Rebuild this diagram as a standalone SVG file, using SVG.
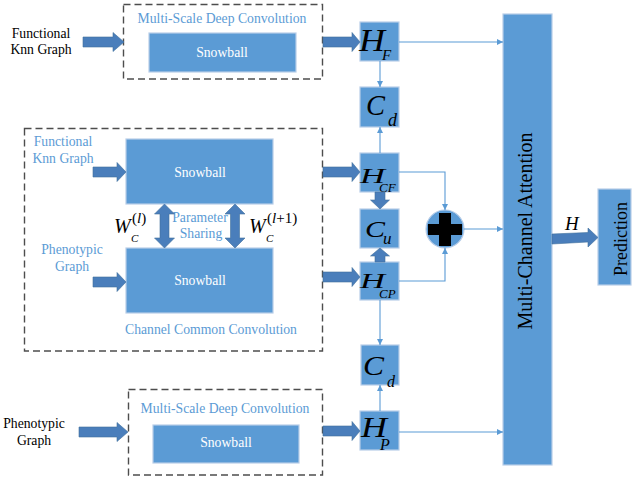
<svg xmlns="http://www.w3.org/2000/svg" width="632" height="481" viewBox="0 0 632 481">
  <style>
    text { font-family: "Liberation Serif", "Times New Roman", serif; }
    .box { fill: #5B9BD5; stroke: #B8CDE8; stroke-width: 1.2; }
    .frame { fill: none; stroke: #4D4D4D; stroke-width: 1.4; stroke-dasharray: 7 4; }
    .fat { fill: #4A7EBB; stroke: #41719C; stroke-width: 0.6; }
    .thin { fill: none; stroke: #5B9BD5; stroke-width: 1.1; marker-end: url(#tip); }
    .lbl { font-size: 13.7px; fill: #5B9BD5; text-anchor: middle; }
    .blk { font-size: 13.7px; fill: #000; text-anchor: middle; }
    .wht { font-size: 13.7px; fill: #fff; text-anchor: middle; }
    .m { font-style: italic; fill: #000; }
  </style>
  <defs>
    <marker id="tip" markerUnits="userSpaceOnUse" markerWidth="7" markerHeight="6" refX="6" refY="3" orient="auto">
      <path d="M0,0 L6,3 L0,6 z" fill="#5B9BD5"/>
    </marker>
  </defs>

  <!-- dashed module frames -->
  <g id="frame-msdc-top">
    <rect class="frame" x="123.5" y="4.5" width="199" height="74.5"/>
    <text class="lbl" x="222" y="23">Multi-Scale Deep Convolution</text>
  </g>
  <g id="frame-ccc">
    <rect class="frame" x="24.5" y="128.5" width="298" height="222.5"/>
    <text class="lbl" x="211" y="334">Channel Common Convolution</text>
  </g>
  <g id="frame-msdc-bottom">
    <rect class="frame" x="128.5" y="389.5" width="194" height="85.5"/>
    <text class="lbl" x="225" y="413">Multi-Scale Deep Convolution</text>
  </g>

  <!-- input labels -->
  <g id="in-functional">
    <text class="blk" x="41" y="38">Functional</text>
    <text class="blk" x="41" y="54">Knn Graph</text>
  </g>
  <g id="in-functional-ccc">
    <text class="lbl" x="63" y="146">Functional</text>
    <text class="lbl" x="63" y="163">Knn Graph</text>
  </g>
  <g id="in-phenotypic-ccc">
    <text class="lbl" x="72" y="254">Phenotypic</text>
    <text class="lbl" x="72" y="271">Graph</text>
  </g>
  <g id="in-phenotypic">
    <text class="blk" x="34" y="428">Phenotypic</text>
    <text class="blk" x="34" y="445">Graph</text>
  </g>

  <!-- snowball encoders -->
  <g id="snowball-f">
    <rect class="box" x="149" y="33" width="147" height="39"/>
    <text class="wht" x="222" y="57">Snowball</text>
  </g>
  <g id="snowball-cf">
    <rect class="box" x="126" y="139" width="147" height="65"/>
    <text class="wht" x="200" y="177">Snowball</text>
  </g>
  <g id="snowball-cp">
    <rect class="box" x="126" y="248" width="147" height="65"/>
    <text class="wht" x="200" y="285">Snowball</text>
  </g>
  <g id="snowball-p">
    <rect class="box" x="153" y="425" width="146" height="38"/>
    <text class="wht" x="226" y="447">Snowball</text>
  </g>

  <!-- parameter sharing -->
  <g id="sharing">
    <text class="lbl" x="200" y="222">Parameter</text>
    <text class="lbl" x="201" y="238">Sharing</text>
    <text class="m" x="114" y="233" font-size="20">W<tspan x="131" y="242" font-size="11">C</tspan><tspan x="132" y="223" font-size="15" font-style="normal">(<tspan font-style="italic">l</tspan>)</tspan></text>
    <text class="m" x="249" y="233" font-size="20">W<tspan x="266" y="242" font-size="11">C</tspan><tspan x="267" y="223" font-size="15" font-style="normal">(<tspan font-style="italic">l</tspan>+1)</tspan></text>
  </g>

  <!-- feature nodes -->
  <g id="h-f">
    <rect class="box" x="360" y="22" width="39" height="39"/>
    <text class="m" x="359" y="51" font-size="31" textLength="26" lengthAdjust="spacingAndGlyphs">H</text>
    <text class="m" x="382" y="60" font-size="15">F</text>
  </g>
  <g id="c-d-top">
    <rect class="box" x="360" y="87" width="39" height="40"/>
    <text class="m" x="366" y="115" font-size="30" textLength="19" lengthAdjust="spacingAndGlyphs">C</text>
    <text class="m" x="388" y="126" font-size="18">d</text>
  </g>
  <g id="h-cf">
    <rect class="box" x="360" y="153" width="39" height="39"/>
    <text class="m" x="360" y="183" font-size="22" textLength="25" lengthAdjust="spacingAndGlyphs">H</text>
    <text class="m" x="379" y="192" font-size="13">CF</text>
  </g>
  <g id="c-u">
    <rect class="box" x="360" y="209" width="39" height="39"/>
    <text class="m" x="365" y="237" font-size="24" textLength="20" lengthAdjust="spacingAndGlyphs">C</text>
    <text class="m" x="383" y="244" font-size="17">u</text>
  </g>
  <g id="h-cp">
    <rect class="box" x="360" y="262" width="39" height="38"/>
    <text class="m" x="360" y="288" font-size="22" textLength="25" lengthAdjust="spacingAndGlyphs">H</text>
    <text class="m" x="379" y="298" font-size="13">CP</text>
  </g>
  <g id="c-d-bottom">
    <rect class="box" x="361" y="345" width="38" height="40"/>
    <text class="m" x="363" y="375" font-size="28" textLength="21" lengthAdjust="spacingAndGlyphs">C</text>
    <text class="m" x="387" y="387" font-size="16">d</text>
  </g>
  <g id="h-p">
    <rect class="box" x="360" y="411" width="39" height="39"/>
    <text class="m" x="361" y="437" font-size="29" textLength="26" lengthAdjust="spacingAndGlyphs">H</text>
    <text class="m" x="380" y="450" font-size="16">P</text>
  </g>

  <!-- fusion -->
  <g id="sum">
    <circle cx="445" cy="229" r="19" fill="#5B9BD5" stroke="#B8CDE8" stroke-width="1.2"/>
    <path d="M439,213 H451 V224 H462 V235 H451 V246 H439 V235 H428 V224 H439 Z" fill="#000"/>
  </g>

  <g id="attention">
    <rect class="box" x="503" y="14" width="49" height="451"/>
    <text transform="translate(532,231) rotate(-90)" font-size="20" fill="#000" text-anchor="middle">Multi-Channel Attention</text>
  </g>
  <g id="prediction">
    <rect class="box" x="598" y="189" width="33" height="96"/>
    <text transform="translate(627,239) rotate(-90)" font-size="18" fill="#000" text-anchor="middle">Prediction</text>
  </g>

  <!-- connectors -->
  <g id="connectors">
    <!-- block arrows -->
    <polygon class="fat" points="83,37 113,37 113,32.5 124,42 113,51.5 113,47 83,47"/>
    <polygon class="fat" points="323,37 352,37 352,32.5 360,42 352,51.5 352,47 323,47"/>
    <polygon class="fat" points="93,167 117,167 117,162.5 126,172 117,181.5 117,177 93,177"/>
    <polygon class="fat" points="93,277 117,277 117,272.5 126,282 117,291.5 117,287 93,287"/>
    <polygon class="fat" points="323,167 352,167 352,162.5 360,172 352,181.5 352,177 323,177"/>
    <polygon class="fat" points="323,272 352,272 352,267.5 360,277 352,286.5 352,282 323,282"/>
    <polygon class="fat" points="79,427 117,427 117,422.5 128,432 117,441.5 117,437 79,437"/>
    <polygon class="fat" points="323,426 352,426 352,421.5 360,431 352,440.5 352,436 323,436"/>
    <polygon class="fat" points="552,234 588,232.5 588,228 598,237.5 588,247 588,242 552,244"/>
    <polygon class="fat" points="375,192 385,192 385,200 389.5,200 380,209 370.5,200 375,200"/>
    <polygon class="fat" points="375,262 385,262 385,256 389.5,256 380,248 370.5,256 375,256"/>
    <polygon class="fat" points="164.5,204 174.5,214 169,214 169,238 174.5,238 164.5,248 154.5,238 160,238 160,214 154.5,214"/>
    <polygon class="fat" points="235,204 245,214 239.5,214 239.5,238 245,238 235,248 225,238 230.5,238 230.5,214 225,214"/>
    <text class="m" x="565" y="230" font-size="19">H</text>
    <!-- thin links -->
    <path class="thin" d="M399,42 H503"/>
    <path class="thin" d="M380,61 V87"/>
    <path class="thin" d="M380,153 V127"/>
    <path class="thin" d="M399,172 H445 V210"/>
    <path class="thin" d="M399,281 H445 V248"/>
    <path class="thin" d="M464,229 H503"/>
    <path class="thin" d="M380,300 V345"/>
    <path class="thin" d="M380,411 V385"/>
    <path class="thin" d="M399,432 H503"/>
  </g>
</svg>
